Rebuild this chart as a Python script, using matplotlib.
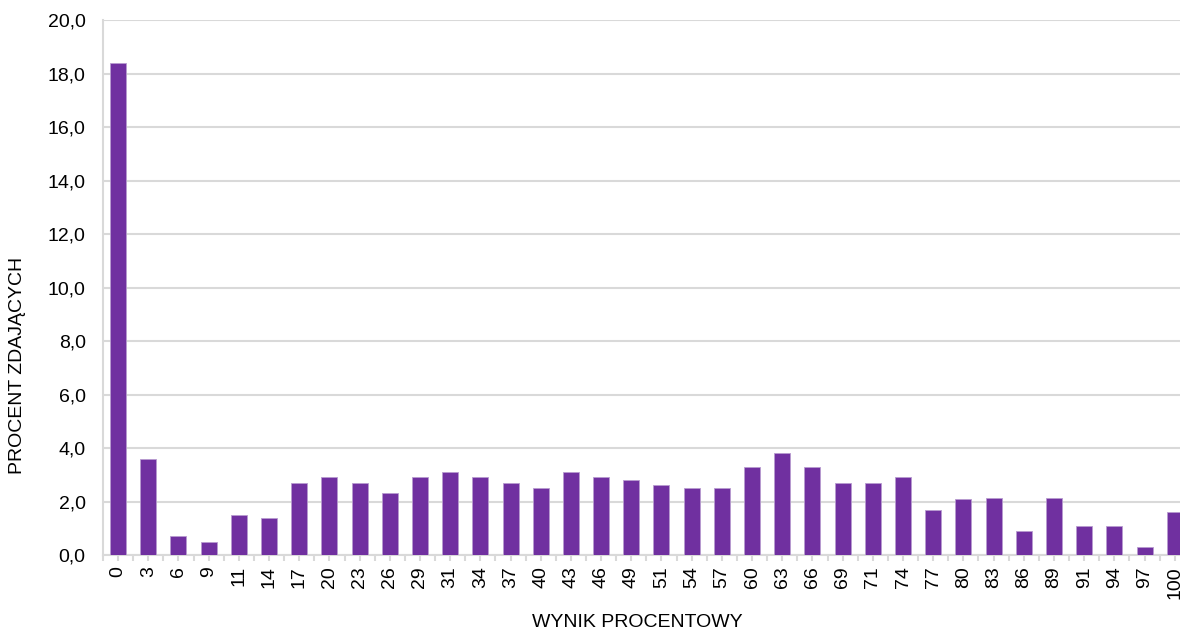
import numpy as np
import matplotlib.pyplot as plt
from matplotlib.ticker import FuncFormatter, FixedLocator

# wynik procentowy (kategorie) i procent zdających
wyniki = ['0', '3', '6', '9', '11', '14', '17', '20', '23', '26', '29', '31',
          '34', '37', '40', '43', '46', '49', '51', '54', '57', '60', '63', '66',
          '69', '71', '74', '77', '80', '83', '86', '89', '91', '94', '97', '100']
procent = [18.4, 3.6, 0.7, 0.5, 1.5, 1.4, 2.7, 2.9, 2.7, 2.3, 2.9, 3.1,
           2.9, 2.7, 2.5, 3.1, 2.9, 2.8, 2.6, 2.5, 2.5, 3.3, 3.8, 3.3,
           2.7, 2.7, 2.9, 1.7, 2.1, 2.15, 0.9, 2.15, 1.1, 1.1, 0.3, 1.6]

plt.rcParams['font.family'] = ['Liberation Sans', 'DejaVu Sans']
kolor = '#7030A0'
szary = '#D9D9D9'
fs = 14

fig = plt.figure(figsize=(11.8, 6.31), dpi=100)
ax = fig.add_axes([0.0873, 0.1204, 0.921, 0.8479])

x = np.arange(len(wyniki))
ax.bar(x, procent, width=0.53, color=kolor, edgecolor='#B89BD0', linewidth=0.6, zorder=3)

ax.set_xlim(-0.5, len(wyniki) - 0.5)
ax.set_ylim(0, 20)
ax.set_yticks(np.arange(0, 20.1, 2))
ax.yaxis.set_major_formatter(FuncFormatter(lambda v, p: f'{v:.1f}'.replace('.', ',')))
ax.grid(axis='y', color=szary, linewidth=1.5, zorder=0)

ax.set_xticks(x)
ax.set_xticklabels(wyniki, rotation=90)
ax.xaxis.set_minor_locator(FixedLocator(np.arange(-0.5, len(wyniki), 1)))
ax.tick_params(axis='x', which='both', length=4.3, width=1.5, color=szary,
               labelsize=fs, pad=3.6)
ax.tick_params(axis='y', length=0, labelsize=fs, pad=12.5)

for s in ['top', 'right']:
    ax.spines[s].set_visible(False)
for s in ['left', 'bottom']:
    ax.spines[s].set_color(szary)
    ax.spines[s].set_linewidth(1.5)

ax.set_xlabel('WYNIK PROCENTOWY', fontsize=fs)
ax.set_ylabel('PROCENT ZDAJĄCYCH', fontsize=fs)
ax.xaxis.set_label_coords(0.492, -0.111)
ax.yaxis.set_label_coords(-0.071, 0.355)

fig.savefig('out.png', dpi=100)
